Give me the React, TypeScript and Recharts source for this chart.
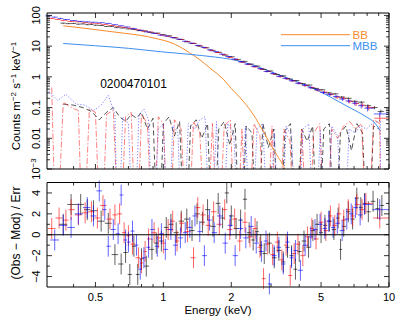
import React from "react";
import { ComposedChart, Line, Scatter, ErrorBar, XAxis, YAxis, ReferenceLine } from "recharts";

const FONT = "'Liberation Sans', Arial, Helvetica, sans-serif";
const Z = 1e-6; // empty background bin, falls below the axis
const E_MAX = 10; // upper edge of the last spectral bin

// ---- axes ----
const X_DOMAIN = [0.305, 10];
const xMajor = [0.5, 1, 2, 5, 10];
const xMajorLabels = ["0.5", "1", "2", "5", "10"];
const xMinor = [0.4, 0.6, 0.7, 0.8, 0.9, 3, 4, 6, 7, 8, 9];
const Y_TOP_DOMAIN = [0.001, 120];
const yTopMajor = [0.001, 0.01, 0.1, 1, 10, 100];
const yTopMajorLabels = ["10^−3", "0.01", "0.1", "1", "10", "100"];
const Y_RES_DOMAIN = [-5, 5];
const yResMajor = [-4, -2, 0, 2, 4];
const yResMajorLabels = ["−4", "−2", "0", "2", "4"];
const yResMinor = [-3, -1, 1, 3];

// ---- top panel: spectra (counts m^-2 s^-1 keV^-1) ----
const pnE = [0.36,0.38,0.40,0.42,0.44,0.46,0.48,0.50,0.53,0.56,0.59,0.62,0.66,0.70,0.74,0.78,0.83,0.88,0.94,1.00,1.06,1.13,1.20,1.28,1.36,1.45,1.55,1.65,1.76,1.88,2.00,2.14,2.28,2.44,2.60,2.78,2.97,3.17,3.39,3.62,3.87,4.14,4.42,4.73,5.05,5.40,5.77,6.17,6.60,7.05,7.54,8.06,8.62,9.20];
const pnCounts = [56,54,55,52,53,50,51,48,47,44,44,40,39,36.5,35,32,31,28,26.5,23.5,21.5,18.5,16.5,13.8,12.2,10.0,8.8,7.1,6.3,5.1,4.5,3.6,3.2,2.6,2.25,1.75,1.55,1.2,1.08,0.85,0.76,0.6,0.54,0.42,0.38,0.3,0.28,0.22,0.2,0.16,0.15,0.115,0.1,0.075];
const pnErr = [1.8,1.7,1.6,1.5,1.5,1.4,1.4,1.3,1.2,1.1,1.1,1.0,0.9,0.85,0.8,0.7,0.7,0.6,0.55,0.5,0.45,0.4,0.36,0.3,0.28,0.24,0.21,0.18,0.16,0.14,0.12,0.1,0.09,0.08,0.07,0.06,0.055,0.045,0.042,0.035,0.032,0.028,0.026,0.022,0.021,0.018,0.018,0.016,0.015,0.014,0.014,0.013,0.012,0.011];

const m1E = [0.32,0.34,0.36,0.39,0.42,0.45,0.48,0.51,0.55,0.59,0.63,0.67,0.72,0.77,0.82,0.87,0.93,0.99,1.05,1.12,1.19,1.27,1.35,1.44,1.53,1.63,1.74,1.85,1.97,2.10,2.24,2.39,2.55,2.72,2.90,3.09,3.30,3.52,3.75,4.00,4.27,4.55,4.85,5.17,5.52,5.89,6.28,6.70,7.15,7.62,8.13,9.10];
const m1Counts = [80,74,69,64,62,58,56,54,51,47,44,41,38,34,31,29,26,23,21,19,16.5,14.2,12.3,10.4,8.9,7.4,6.2,5.3,4.3,3.7,3.0,2.55,2.1,1.8,1.5,1.25,1.02,0.88,0.74,0.62,0.52,0.45,0.37,0.32,0.27,0.22,0.2,0.16,0.135,0.12,0.1,0.045];
const m1Err = [3,2.7,2.5,2.2,2.0,1.9,1.8,1.7,1.6,1.5,1.4,1.3,1.2,1.1,1.0,0.95,0.85,0.8,0.7,0.65,0.6,0.5,0.45,0.4,0.36,0.32,0.28,0.25,0.21,0.19,0.16,0.14,0.12,0.11,0.095,0.085,0.075,0.065,0.058,0.05,0.046,0.042,0.037,0.034,0.031,0.028,0.027,0.024,0.022,0.021,0.02,0.012];

const m2E = [0.31,0.33,0.35,0.37,0.40,0.43,0.46,0.49,0.53,0.57,0.61,0.65,0.69,0.74,0.79,0.85,0.91,0.97,1.03,1.10,1.17,1.25,1.33,1.42,1.51,1.61,1.71,1.82,1.94,2.07,2.21,2.36,2.52,2.69,2.87,3.06,3.26,3.48,3.71,3.96,4.22,4.50,4.80,5.12,5.46,5.82,6.21,6.62,7.06,7.53,8.03,9.10];
const m2Counts = [97,88,80,74,68,64,62,60,58,55,50,46,42,37,33,29,26,23,21.5,19,16.8,14.5,12.5,10.6,9.1,7.6,6.6,5.5,4.6,3.8,3.1,2.6,2.2,1.85,1.5,1.3,1.05,0.9,0.75,0.62,0.54,0.44,0.38,0.31,0.27,0.23,0.19,0.165,0.14,0.115,0.095,0.062];
const m2Err = [3.2,2.9,2.6,2.4,2.2,2.0,1.9,1.8,1.7,1.6,1.5,1.4,1.3,1.2,1.1,1.0,0.9,0.85,0.8,0.7,0.63,0.56,0.5,0.44,0.4,0.35,0.31,0.27,0.24,0.2,0.17,0.15,0.13,0.115,0.1,0.09,0.078,0.07,0.062,0.055,0.05,0.045,0.04,0.036,0.033,0.03,0.028,0.026,0.024,0.022,0.02,0.011];

// model components
const bbE = [0.36,0.45,0.56,0.68,0.79,0.95,1.07,1.2,1.31,1.45,1.6,1.84,2.0,2.26,2.5,2.77,3.0,3.17,3.45,3.6];
const bbFlux = [46,38,31,26,22.5,17,13.4,9.0,6.0,3.6,2.0,0.85,0.42,0.16,0.06,0.017,0.006,0.003,0.001,0.0004];
const mbbE = [0.36,0.5,0.7,0.97,1.31,1.7,2.0,2.5,3.0,3.5,4.0,4.5,5.0,5.5,6.0,6.5,7.0,7.5,8.0,8.6,9.15];
const mbbFlux = [12.2,10.3,8.5,6.6,5.4,4.4,3.7,2.4,1.45,0.95,0.65,0.46,0.32,0.22,0.155,0.112,0.084,0.064,0.048,0.033,0.018];

// backgrounds
const pnBkgE = [0.36,0.40,0.44,0.48,0.52,0.56,0.60,0.64,0.68,0.72,0.76,0.80,0.85,0.90,0.95,1.00,1.06,1.12,1.18,1.25,1.32,1.40,1.48,1.57,1.66,1.76,1.86,1.97,2.08,2.20,2.33,2.47,2.61,2.76,2.92,3.09,3.27,3.46,3.66,3.87,4.10,4.34,4.59,4.86,5.14,5.44,5.76,6.09,6.44,6.82,7.21,7.63,8.07,8.54,9.03];
const pnBkg = [0.13,0.12,0.1,0.075,0.04,0.07,0.1,0.05,0.035,0.06,0.045,0.07,0.02,0.045,Z,0.03,0.05,0.012,0.035,Z,0.025,0.04,0.01,0.03,Z,0.02,0.035,0.006,0.03,Z,0.025,0.015,Z,0.03,0.005,0.02,Z,0.018,0.03,Z,0.02,0.008,0.025,Z,0.02,0.03,Z,0.015,0.025,0.004,0.03,0.015,Z,0.025,0.02];
const m1BkgE = [0.32,0.335,0.36,0.39,0.42,0.44,0.47,0.50,0.53,0.56,0.60,0.64,0.68,0.72,0.76,0.80,0.85,0.90,0.95,1.00,1.06,1.12,1.20,1.28,1.36,1.45,1.55,1.65,1.75,1.86,1.98,2.10,2.23,2.37,2.52,2.68,2.85,3.03,3.22,3.42,3.64,3.87,4.11,4.37,4.64,4.93,5.24,5.57,5.92,6.29,6.69,7.11,7.56,8.03,8.54,9.10,9.20];
const m1Bkg = [0.45,Z,0.15,0.1,0.08,Z,0.09,0.07,Z,0.06,0.08,Z,0.05,0.07,Z,0.06,0.03,Z,0.05,0.03,Z,0.04,0.02,Z,0.035,0.015,Z,0.03,Z,0.025,0.04,Z,0.02,Z,0.03,0.012,Z,0.025,Z,0.02,0.008,Z,0.02,Z,0.015,0.03,Z,0.02,0.01,0.025,0.035,0.02,0.03,Z,0.04,0.03,Z];
const m2BkgE = [0.31,0.34,0.37,0.41,0.45,0.49,0.53,0.57,0.61,0.63,0.66,0.70,0.74,0.78,0.82,0.86,0.90,0.95,1.00,1.05,1.10,1.16,1.22,1.29,1.37,1.45,1.53,1.62,1.72,1.82,1.93,2.05,2.18,2.31,2.45,2.60,2.76,2.93,3.10,3.30,3.50,3.70,3.92,4.16,4.41,4.68,4.96,5.26,5.58,5.92,6.28,6.66,7.06,7.49,7.94,8.42,8.90,9.15,9.20];
const m2Bkg = [0.35,0.17,0.27,0.13,0.12,0.08,0.12,0.25,0.06,Z,0.05,0.03,Z,0.06,0.09,0.04,Z,0.02,0.03,Z,0.025,0.015,Z,0.03,0.02,0.04,0.05,Z,0.035,Z,0.03,0.015,Z,0.025,Z,0.02,0.03,Z,0.015,Z,0.025,0.012,Z,0.02,0.03,Z,0.018,Z,0.025,0.012,Z,0.02,0.015,0.025,0.02,0.03,0.035,0.04,Z];

// ---- bottom panel: residuals (Obs - Mod) / Err ----
const pnResE = [0.36,0.39,0.43,0.46,0.49,0.53,0.57,0.61,0.65,0.68,0.71,0.74,0.77,0.80,0.84,0.89,0.93,0.98,1.03,1.08,1.14,1.20,1.27,1.34,1.41,1.49,1.57,1.66,1.75,1.83,1.91,2.00,2.10,2.20,2.30,2.40,2.50,2.60,2.70,2.80,2.95,3.10,3.25,3.40,3.55,3.70,3.85,4.00,4.20,4.40,4.60,4.80,5.00,5.20,5.45,5.70,5.95,6.10,6.30,6.60,6.90,7.20,7.50,7.80,8.10,8.50,8.90,9.30];
const pnRes = [1.0,2.9,2.9,2.4,2.3,1.3,1.1,-1.9,-2.8,-1.7,-3.8,-1.1,-3.8,-2.3,-3.0,-1.4,-0.8,-0.6,0.7,1.0,0.2,1.3,1.5,0.4,2.0,1.2,2.4,0.8,3.0,1.6,4.0,1.8,0.6,1.4,3.4,0.2,-0.5,0.3,-1.0,-1.8,-0.8,-2.2,-1.5,-2.6,-1.2,-2.0,-3.3,-1.6,-0.6,-1.2,0.4,1.0,0.2,0.9,1.3,0.5,1.6,-1.4,0.8,2.2,1.5,3.5,2.6,3.0,2.2,3.2,2.5,2.8];
const m1ResE = [0.32,0.345,0.37,0.39,0.42,0.45,0.48,0.51,0.54,0.58,0.61,0.64,0.67,0.70,0.73,0.775,0.80,0.83,0.86,0.91,0.95,1.00,1.05,1.10,1.15,1.20,1.28,1.36,1.42,1.50,1.58,1.67,1.77,1.87,1.97,2.07,2.18,2.30,2.42,2.55,2.68,2.78,2.90,3.05,3.20,3.35,3.50,3.65,3.80,3.95,4.15,4.35,4.55,4.75,5.00,5.25,5.50,5.75,6.00,6.30,6.60,6.90,7.20,7.60,7.90,9.10];
const m1Res = [0.6,1.6,1.4,2.4,1.9,2.1,2.2,1.6,2.8,1.5,1.9,2.0,0.2,-0.1,-0.9,-2.2,-2.7,-1.6,-0.4,0.2,-0.3,-0.8,0.5,1.3,-0.6,1.1,0.3,-2.2,2.6,1.9,0.9,2.2,1.0,2.4,0.5,1.5,-0.6,1.2,-0.2,0.6,-1.2,-4.2,-0.9,-1.9,-0.7,-2.4,-1.0,-3.9,-1.8,-0.9,-2.0,-0.2,0.6,-0.4,1.2,0.4,1.8,0.9,2.0,1.4,2.4,1.8,2.9,2.4,3.0,1.6];
const m2ResE = [0.33,0.36,0.39,0.42,0.46,0.49,0.52,0.55,0.57,0.60,0.63,0.65,0.68,0.70,0.73,0.76,0.79,0.82,0.86,0.89,0.94,0.98,1.02,1.08,1.13,1.19,1.25,1.31,1.38,1.45,1.52,1.60,1.68,1.78,1.88,1.98,2.08,2.20,2.32,2.45,2.58,2.72,2.85,2.95,3.10,3.25,3.40,3.55,3.70,3.85,4.05,4.25,4.50,4.70,4.95,5.20,5.40,5.65,5.90,6.20,6.50,6.80,7.10,7.45,7.80,9.10];
const m2Res = [-0.5,0.9,0.7,2.0,2.6,1.8,4.2,2.4,-1.1,0.5,0.1,3.8,-0.5,-0.7,0.35,-1.0,-3.3,-2.2,-1.2,0.5,-1.1,0.1,-1.4,0.5,-1.0,-0.3,0.2,0.7,1.8,0.3,-2.0,1.4,0.2,1.8,-0.8,0.9,-2.0,0.6,-0.3,0.8,-0.8,-1.6,-0.6,-4.7,-2.0,-1.2,-2.8,-0.7,-2.2,-1.5,-3.4,-1.0,-0.2,0.5,1.0,0.6,1.3,0.7,1.1,0.4,1.5,2.0,2.6,1.9,2.9,2.4];

const C_PN = "rgba(0,0,0,0.62)";
const C_M1 = "rgba(255,0,0,0.6)";
const C_M2 = "rgba(0,0,255,0.6)";
const C_BB = "#f68b2c";
const C_MBB = "#3d8ff0";

// bin half-widths from the midpoints between neighbouring energies
function binWidths(e: number[], lastHi?: number) {
  return e.map((x, i) => {
    const lo = i > 0 ? (x + e[i - 1]) / 2 : x - (e[1] - x) / 2;
    const hi = i < e.length - 1 ? (x + e[i + 1]) / 2 : lastHi ?? x + (x - e[i - 1]) / 2;
    return [x - lo, hi - x];
  });
}

function spectrum(e: number[], v: number[], err: number[], lastHi?: number) {
  const ex = binWidths(e, lastHi);
  return e.map((x, i) => ({ e: x, v: v[i], ex: ex[i], ey: err[i] }));
}

function residuals(e: number[], r: number[], lastHi?: number) {
  const ex = binWidths(e, lastHi);
  return e.map((x, i) => ({ e: x, v: r[i], ex: ex[i], ey: 1 }));
}

const curve = (e: number[], v: number[]) => e.map((x, i) => ({ e: x, v: v[i] }));

const pnRows = spectrum(pnE, pnCounts, pnErr);
const m1Rows = spectrum(m1E, m1Counts, m1Err, E_MAX);
const m2Rows = spectrum(m2E, m2Counts, m2Err, E_MAX);
const pnResRows = residuals(pnResE, pnRes);
const m1ResRows = residuals(m1ResE, m1Res, E_MAX);
const m2ResRows = residuals(m2ResE, m2Res, E_MAX);

const near = (a: number, b: number) => Math.abs(a - b) <= 1e-9 * Math.max(1e-3, Math.abs(b));

function label(text: string) {
  const [base, exp] = text.split("^");
  return exp ? (
    <>
      {base}
      <tspan dy={-4} fontSize={8}>{exp}</tspan>
    </>
  ) : (
    base
  );
}

function tick(side: "bottom" | "top" | "left" | "right", majors: number[], labels?: string[]) {
  return (p: any) => {
    const { x, y } = p;
    const idx = majors.findIndex((m) => near(m, p.payload.value));
    const len = idx >= 0 ? 5 : 3;
    const txt = labels && idx >= 0 ? labels[idx] : null;
    let ln;
    if (side === "bottom") ln = <line x1={x} x2={x} y1={y} y2={y - len} />;
    else if (side === "top") ln = <line x1={x} x2={x} y1={y} y2={y + len} />;
    else if (side === "left") ln = <line x1={x} x2={x + len} y1={y} y2={y} />;
    else ln = <line x1={x} x2={x - len} y1={y} y2={y} />;
    return (
      <g stroke="#000" strokeWidth={0.8}>
        {ln}
        {txt && side === "bottom" && (
          <text x={x} y={y + 14} textAnchor="middle" fontSize={11} fontFamily={FONT} stroke="none" fill="#000">
            {label(txt)}
          </text>
        )}
        {txt && side === "left" && (
          <text transform={`translate(${x - 7},${y}) rotate(-90)`} textAnchor="middle" fontSize={11} fontFamily={FONT} stroke="none" fill="#000">
            {label(txt)}
          </text>
        )}
      </g>
    );
  };
}

const noDot = () => <g />;
const axisLine = { stroke: "#000", strokeWidth: 1 };

function decadeTicks(majors: number[]) {
  const out: number[] = [];
  majors.forEach((m, i) => {
    out.push(m);
    if (i < majors.length - 1) for (let k = 2; k <= 9; k++) out.push(m * k);
  });
  return out;
}

const xTicks = [...xMajor, ...xMinor].sort((a, b) => a - b);
const yTopTicks = decadeTicks(yTopMajor);
const yResTicks = [...yResMajor, ...yResMinor].sort((a, b) => a - b);

export default function App() {
  const xAxisCommon = {
    dataKey: "e",
    type: "number" as const,
    scale: "log" as const,
    domain: X_DOMAIN,
    allowDataOverflow: true,
    ticks: xTicks,
    interval: 0 as const,
    height: 1,
    tickSize: 0,
    tickMargin: 0,
    tickLine: false,
    axisLine,
  };
  const yCommonTop = {
    dataKey: "v",
    type: "number" as const,
    scale: "log" as const,
    domain: Y_TOP_DOMAIN,
    allowDataOverflow: true,
    ticks: yTopTicks,
    interval: 0 as const,
    width: 1,
    tickSize: 0,
    tickMargin: 0,
    tickLine: false,
    axisLine,
  };
  const yCommonRes = {
    dataKey: "v",
    type: "number" as const,
    domain: Y_RES_DOMAIN,
    allowDataOverflow: true,
    ticks: yResTicks,
    interval: 0 as const,
    width: 1,
    tickSize: 0,
    tickMargin: 0,
    tickLine: false,
    axisLine,
  };
  const scatter = (rows: any[], color: string, key: string) => (
    <Scatter key={key} data={rows} dataKey="v" shape={noDot} isAnimationActive={false}>
      <ErrorBar dataKey="ex" direction="x" width={0} stroke={color} strokeWidth={1} isAnimationActive={false} />
      <ErrorBar dataKey="ey" direction="y" width={0} stroke={color} strokeWidth={1} isAnimationActive={false} />
    </Scatter>
  );

  return (
    <div style={{ position: "absolute", left: 0, top: 0, width: 415, height: 322, background: "#fff", fontFamily: FONT }}>
      <div style={{ position: "absolute", left: 0, top: 0 }}>
        <ComposedChart width={415} height={322} margin={{ top: 12, right: 25, bottom: 152, left: 46 }}>
          <XAxis {...xAxisCommon} tick={tick("bottom", xMajor)} />
          <XAxis {...xAxisCommon} xAxisId="t" orientation="top" tick={tick("top", xMajor)} />
          <YAxis {...yCommonTop} tick={tick("left", yTopMajor, yTopMajorLabels)} />
          <YAxis {...yCommonTop} yAxisId="r" orientation="right" tick={tick("right", yTopMajor)} />
          <Line data={curve(pnBkgE, pnBkg)} dataKey="v" stroke="#000" strokeOpacity={0.85} strokeWidth={0.8} strokeDasharray="5 3" dot={false} isAnimationActive={false} />
          <Line data={curve(m1BkgE, m1Bkg)} dataKey="v" stroke="#ff2a2a" strokeOpacity={0.75} strokeWidth={0.8} strokeDasharray="6 2 1.5 2" dot={false} isAnimationActive={false} />
          <Line data={curve(m2BkgE, m2Bkg)} dataKey="v" stroke="#3535ff" strokeOpacity={0.8} strokeWidth={0.8} strokeDasharray="1.2 1.8" dot={false} isAnimationActive={false} />
          <Line data={curve(bbE, bbFlux)} dataKey="v" stroke={C_BB} strokeWidth={1} dot={false} type="monotone" isAnimationActive={false} />
          <Line data={curve(mbbE, mbbFlux)} dataKey="v" stroke={C_MBB} strokeWidth={1} dot={false} type="monotone" isAnimationActive={false} />
          {scatter(pnRows, C_PN, "pn")}
          {scatter(m1Rows, C_M1, "m1")}
          {scatter(m2Rows, C_M2, "m2")}
        </ComposedChart>
      </div>
      <div style={{ position: "absolute", left: 0, top: 0 }}>
        <ComposedChart width={415} height={322} margin={{ top: 181.5, right: 25, bottom: 34, left: 46 }}>
          <XAxis {...xAxisCommon} tick={tick("bottom", xMajor, xMajorLabels)} />
          <XAxis {...xAxisCommon} xAxisId="t" orientation="top" tick={tick("top", xMajor)} />
          <YAxis {...yCommonRes} tick={tick("left", yResMajor, yResMajorLabels)} />
          <YAxis {...yCommonRes} yAxisId="r" orientation="right" tick={tick("right", yResMajor)} />
          {scatter(pnResRows, C_PN, "pnr")}
          {scatter(m1ResRows, C_M1, "m1r")}
          {scatter(m2ResRows, C_M2, "m2r")}
          <ReferenceLine y={0} stroke="#000" strokeWidth={1} />
        </ComposedChart>
      </div>
      <svg width={415} height={322} style={{ position: "absolute", left: 0, top: 0, pointerEvents: "none" }} fontFamily={FONT}>
        <text transform="translate(20,96) rotate(-90)" textAnchor="middle" fontSize={11.5} fill="#000">
          Counts m<tspan dy={-4} fontSize={8}>−2</tspan>
          <tspan dy={4}> s</tspan>
          <tspan dy={-4} fontSize={8}>−1</tspan>
          <tspan dy={4}> keV</tspan>
          <tspan dy={-4} fontSize={8}>−1</tspan>
        </text>
        <text transform="translate(20,233) rotate(-90)" textAnchor="middle" fontSize={12} fill="#000">
          (Obs − Mod) / Err
        </text>
        <text x={218} y={313.5} textAnchor="middle" fontSize={11.5} fill="#000">
          Energy (keV)
        </text>
        <text x={133.5} y={88} textAnchor="middle" fontSize={12} fill="#000">
          0200470101
        </text>
        <line x1={281} x2={350} y1={34.7} y2={34.7} stroke={C_BB} strokeWidth={1} />
        <text x={352.5} y={38.7} fontSize={11.5} fill={C_BB}>BB</text>
        <line x1={281} x2={350} y1={45.7} y2={45.7} stroke={C_MBB} strokeWidth={1} />
        <text x={352.5} y={49.7} fontSize={11.5} fill={C_MBB}>MBB</text>
      </svg>
    </div>
  );
}
